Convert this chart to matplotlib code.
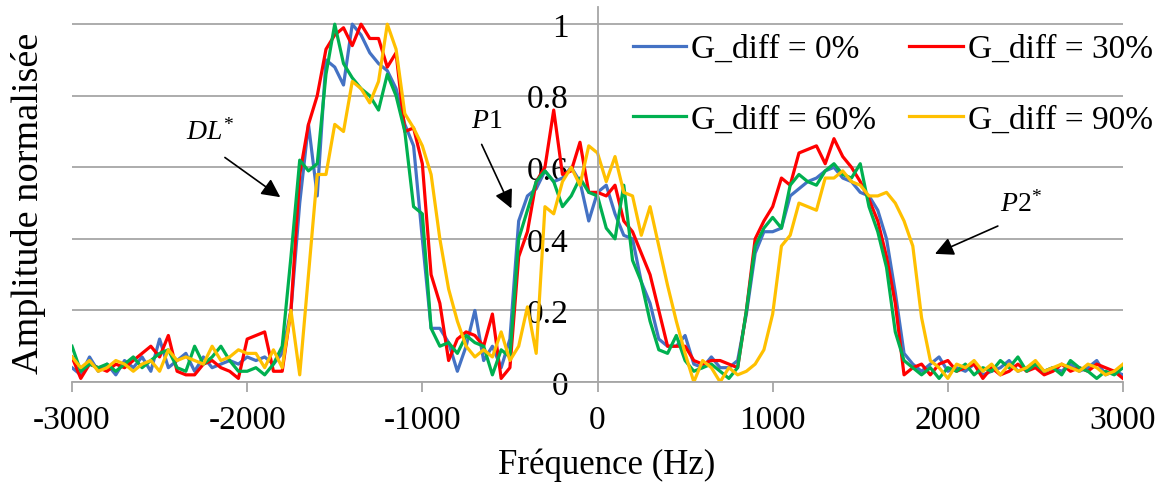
import numpy as np
import matplotlib.pyplot as plt

plt.rcParams['font.family'] = ['Liberation Serif', 'DejaVu Serif']
plt.rcParams['axes.unicode_minus'] = False
plt.rcParams['mathtext.fontset'] = 'custom'
plt.rcParams['mathtext.rm'] = 'Liberation Serif'
plt.rcParams['mathtext.it'] = 'Liberation Serif:italic'

# frequency axis, 50 Hz steps from -3000 to 3000
freq = np.arange(-3000, 3001, 50)

# G_diff = 0 %
g0 = [0.04, 0.02, 0.07, 0.03, 0.05, 0.02, 0.06, 0.04, 0.07, 0.03,
      0.12, 0.04, 0.06, 0.08, 0.03, 0.07, 0.04, 0.05, 0.06, 0.05,
      0.07, 0.06, 0.07, 0.05, 0.08, 0.20, 0.50, 0.72, 0.52, 0.90,
      0.88, 0.83, 1.00, 0.97, 0.92, 0.89, 0.87, 0.82, 0.72, 0.66,
      0.40, 0.15, 0.15, 0.11, 0.03, 0.10, 0.20, 0.06, 0.10, 0.04,
      0.12, 0.45, 0.52, 0.54, 0.59, 0.56, 0.57, 0.60, 0.56, 0.45,
      0.53, 0.55, 0.47, 0.41, 0.40, 0.28, 0.22, 0.12, 0.10, 0.10,
      0.13, 0.05, 0.04, 0.07, 0.04, 0.04, 0.06, 0.19, 0.36, 0.42,
      0.42, 0.43, 0.52, 0.54, 0.56, 0.57, 0.59, 0.60, 0.57, 0.56,
      0.53, 0.52, 0.48, 0.40, 0.25, 0.08, 0.05, 0.03, 0.05, 0.07,
      0.03, 0.04, 0.03, 0.05, 0.02, 0.03, 0.04, 0.06, 0.03, 0.04,
      0.05, 0.03, 0.04, 0.03, 0.05, 0.03, 0.04, 0.06, 0.02, 0.03,
      0.02]

# G_diff = 30 %
g30 = [0.07, 0.01, 0.05, 0.04, 0.03, 0.05, 0.04, 0.06, 0.08, 0.10,
       0.07, 0.13, 0.03, 0.02, 0.02, 0.05, 0.06, 0.04, 0.03, 0.01,
       0.12, 0.13, 0.14, 0.03, 0.03, 0.20, 0.58, 0.72, 0.80, 0.93,
       0.97, 0.99, 0.94, 1.00, 0.96, 0.96, 0.88, 0.92, 0.70, 0.71,
       0.61, 0.30, 0.22, 0.06, 0.12, 0.14, 0.13, 0.10, 0.19, 0.01,
       0.04, 0.35, 0.42, 0.56, 0.60, 0.76, 0.58, 0.59, 0.67, 0.53,
       0.53, 0.52, 0.55, 0.45, 0.42, 0.36, 0.30, 0.20, 0.10, 0.10,
       0.10, 0.06, 0.05, 0.06, 0.06, 0.05, 0.04, 0.20, 0.40, 0.45,
       0.49, 0.57, 0.55, 0.64, 0.65, 0.66, 0.61, 0.68, 0.63, 0.60,
       0.56, 0.51, 0.45, 0.35, 0.22, 0.02, 0.04, 0.05, 0.02, 0.05,
       0.06, 0.03, 0.04, 0.05, 0.01, 0.04, 0.02, 0.03, 0.05, 0.03,
       0.04, 0.02, 0.03, 0.05, 0.03, 0.04, 0.03, 0.05, 0.04, 0.03,
       0.01]

# G_diff = 60 %
g60 = [0.10, 0.03, 0.05, 0.04, 0.05, 0.03, 0.05, 0.07, 0.04, 0.06,
       0.08, 0.09, 0.04, 0.03, 0.10, 0.05, 0.07, 0.10, 0.06, 0.03,
       0.03, 0.04, 0.02, 0.05, 0.10, 0.35, 0.62, 0.59, 0.61, 0.86,
       1.00, 0.89, 0.85, 0.82, 0.80, 0.76, 0.86, 0.80, 0.70, 0.49,
       0.47, 0.15, 0.10, 0.11, 0.08, 0.13, 0.11, 0.10, 0.02, 0.09,
       0.07, 0.40, 0.48, 0.56, 0.59, 0.56, 0.49, 0.52, 0.57, 0.53,
       0.52, 0.43, 0.40, 0.55, 0.34, 0.28, 0.17, 0.09, 0.08, 0.13,
       0.06, 0.03, 0.04, 0.05, 0.03, 0.01, 0.04, 0.20, 0.38, 0.43,
       0.46, 0.43, 0.55, 0.58, 0.56, 0.55, 0.59, 0.61, 0.58, 0.57,
       0.61, 0.49, 0.42, 0.32, 0.14, 0.06, 0.04, 0.02, 0.04, 0.01,
       0.04, 0.03, 0.05, 0.02, 0.04, 0.03, 0.06, 0.04, 0.07, 0.03,
       0.05, 0.03, 0.04, 0.02, 0.06, 0.04, 0.03, 0.01, 0.03, 0.02,
       0.04]

# G_diff = 90 %
g90 = [0.07, 0.04, 0.06, 0.03, 0.04, 0.06, 0.05, 0.03, 0.05, 0.06,
       0.03, 0.09, 0.06, 0.07, 0.06, 0.05, 0.10, 0.06, 0.07, 0.09,
       0.08, 0.08, 0.04, 0.09, 0.04, 0.20, 0.02, 0.30, 0.58, 0.58,
       0.72, 0.70, 0.84, 0.82, 0.78, 0.84, 1.00, 0.93, 0.75, 0.71,
       0.66, 0.58, 0.40, 0.26, 0.17, 0.10, 0.07, 0.09, 0.07, 0.14,
       0.06, 0.10, 0.21, 0.08, 0.49, 0.47, 0.56, 0.60, 0.55, 0.66,
       0.64, 0.56, 0.63, 0.53, 0.52, 0.41, 0.49, 0.38, 0.27, 0.17,
       0.08, 0.00, 0.06, 0.04, 0.00, 0.04, 0.02, 0.03, 0.05, 0.09,
       0.19, 0.38, 0.41, 0.50, 0.49, 0.48, 0.57, 0.57, 0.59, 0.56,
       0.55, 0.52, 0.52, 0.53, 0.50, 0.45, 0.38, 0.18, 0.06, 0.04,
       0.01, 0.05, 0.04, 0.06, 0.03, 0.05, 0.02, 0.05, 0.03, 0.04,
       0.06, 0.03, 0.04, 0.05, 0.04, 0.03, 0.05, 0.04, 0.02, 0.03,
       0.05]

labels = ['G_diff = 0%', 'G_diff = 30%', 'G_diff = 60%', 'G_diff = 90%']
colors = ['#4472C4', '#FF0000', '#00B050', '#FFC000']

fig = plt.figure(figsize=(11.67, 4.89), dpi=100)
ax = fig.add_axes([72/1167, 1 - 383/489, (1123 - 72)/1167, (383 - 8)/489])

lines = []
for ys, c, lab in zip([g0, g30, g60, g90], colors, labels):
    l, = ax.plot(freq, ys, color=c, lw=2.3, label=lab)
    lines.append(l)

ax.set_xlim(-3000, 3000)
ax.set_ylim(0, 1.048)
ax.set_xticks(np.arange(-3000, 3001, 1000))
ax.set_yticks([0, 0.2, 0.4, 0.6, 0.8, 1])
ax.set_yticklabels(['0', '0.2', '0.4', '0.6', '0.8', '1'])
ax.grid(axis='y', color='#a6a6a6', lw=1.3)
ax.set_axisbelow(True)

for s in ['top', 'right']:
    ax.spines[s].set_visible(False)
ax.spines['left'].set_position(('data', 0))
ax.spines['left'].set_color('#a6a6a6')
ax.spines['left'].set_linewidth(1.3)
ax.spines['bottom'].set_color('#a6a6a6')
ax.spines['bottom'].set_linewidth(1.3)

ax.tick_params(axis='x', direction='out', length=7, width=1.3, color='#a6a6a6',
               labelsize=24, pad=9)
ax.tick_params(axis='y', length=0, labelsize=24, pad=21)

fig.text(607/1167, 1 - 465/489, 'Fréquence (Hz)', fontsize=25,
         ha='center', va='center')
fig.text(29/1167, 1 - 203/489, 'Amplitude normalisée', fontsize=27.5,
         rotation=90, ha='center', va='center')

# annotations
arrow = dict(arrowstyle='-|>', color='black', lw=1.2, mutation_scale=28)
ax.annotate('', xy=(-1798, 0.512), xytext=(-2140, 0.632), arrowprops=arrow)
ax.text(-2209, 0.70, r'$DL^{*}$', fontsize=20, ha='center', va='center')
ax.annotate('', xy=(-485, 0.478), xytext=(-668, 0.671), arrowprops=arrow)
ax.text(-634, 0.73, r'$P1$', fontsize=20, ha='center', va='center')
ax.annotate('', xy=(1912, 0.355), xytext=(2300, 0.439), arrowprops=arrow)
ax.text(2420, 0.498, r'$P2^{*}$', fontsize=20, ha='center', va='center')

order = [0, 2, 1, 3]
fig.legend([lines[i] for i in order], [labels[i] for i in order],
           loc='upper left', bbox_to_anchor=(616/1167, 1 - 18/489), ncol=2,
           frameon=False, borderpad=0, handlelength=1.6, handletextpad=0.15,
           columnspacing=1.0, labelspacing=1.2, fontsize=24)

fig.savefig('out.png', dpi=100)
